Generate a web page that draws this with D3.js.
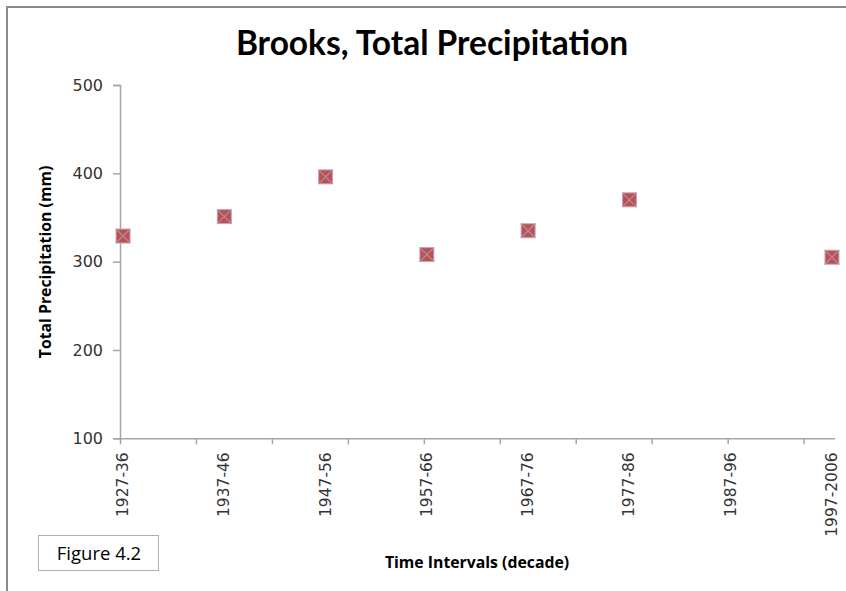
<!DOCTYPE html>
<html>
<head>
<meta charset="utf-8">
<script src="https://cdn.jsdelivr.net/npm/d3@7"></script>
<style>
  html, body { margin: 0; padding: 0; background: #fff; }
  svg { display: block; }
</style>
</head>
<body>
<svg id="chart" width="846" height="591"></svg>
<script>
// Decade intervals and total precipitation (mm) for Brooks
const categories = ["1927-36", "1937-46", "1947-56", "1957-66", "1967-76", "1977-86", "1987-96", "1997-2006"];
const precipitation = [329, 351, 396, 308, 335, 370, null, 305];
const yTicks = [100, 200, 300, 400, 500];

const svg = d3.select("#chart");
const W = 846, H = 591;

// chart area frame
svg.append("path")
  .attr("d", `M7,${H + 2} V7 H${W + 2}`)
  .attr("fill", "none")
  .attr("stroke", "#8c8c8c")
  .attr("stroke-width", 2);

const plotLeft = 120, plotRight = 835, plotTop = 85, plotBottom = 438.3;

// positions 1..8 for the decades; axis spans slightly beyond them
const x = d3.scaleLinear().domain([0.97, 8.03]).range([plotLeft, plotRight]);
const y = d3.scaleLinear().domain([100, 500]).range([plotBottom, plotTop]);

const axisColor = "#a6a6a6";
const tickFont = "'DejaVu Sans', Verdana, sans-serif";
const titleFont = "Lato, 'Open Sans', sans-serif";
const labelFont = "'Open Sans', Lato, sans-serif";

// y axis
const yAxis = svg.append("g")
  .attr("transform", `translate(${plotLeft},0)`)
  .call(d3.axisLeft(y).tickValues(yTicks).tickSize(7).tickPadding(10).tickFormat(d3.format("d")));
yAxis.select(".domain").attr("stroke", axisColor).attr("stroke-width", 1.5);
yAxis.selectAll(".tick line").attr("stroke", axisColor).attr("stroke-width", 1.5);
yAxis.selectAll(".tick text")
  .attr("fill", "#333")
  .style("font-family", tickFont)
  .style("font-size", "16px");

// x axis: tick marks every 0.75 units, labels at each decade
const xTickVals = d3.range(0, 10).map(k => 0.97 + 0.75 * k);
const xAxis = svg.append("g")
  .attr("transform", `translate(0,${plotBottom})`)
  .call(d3.axisBottom(x).tickValues(xTickVals).tickSize(6).tickFormat(""));
xAxis.select(".domain").attr("stroke", axisColor).attr("stroke-width", 1.5)
  .attr("d", `M${plotLeft},0.5H${plotRight}`);
xAxis.selectAll(".tick line").attr("stroke", axisColor).attr("stroke-width", 1.5);

svg.append("g")
  .selectAll("text")
  .data(categories)
  .join("text")
  .attr("transform", (d, i) => `translate(${x(i + 1) + 5},${plotBottom + 14}) rotate(-90)`)
  .attr("text-anchor", "end")
  .attr("fill", "#333")
  .style("font-family", tickFont)
  .style("font-size", "15.5px")
  .text(d => d);

// markers: filled square with an X
const pts = precipitation
  .map((v, i) => ({ i: i + 1, v }))
  .filter(d => d.v != null);
const s = 7;
const mk = svg.append("g")
  .selectAll("g")
  .data(pts)
  .join("g")
  .attr("transform", d => `translate(${x(d.i)},${y(d.v)})`);
mk.append("rect")
  .attr("x", -s).attr("y", -s).attr("width", 2 * s).attr("height", 2 * s)
  .attr("fill", "#C0504D")
  .attr("stroke", "#c9a6b6")
  .attr("stroke-width", 1);
mk.append("path")
  .attr("d", `M${-s},${-s}L${s},${s}M${s},${-s}L${-s},${s}`)
  .attr("stroke", "#a590ab")
  .attr("stroke-width", 1.2);

// titles
svg.append("text")
  .attr("x", 432).attr("y", 55)
  .attr("text-anchor", "middle")
  .style("font-family", titleFont)
  .style("font-weight", "bold")
  .style("font-size", "33.5px")
  .attr("fill", "#000")
  .text("Brooks, Total Precipitation");

svg.append("text")
  .attr("transform", `translate(51,262) rotate(-90)`)
  .attr("text-anchor", "middle")
  .style("font-family", labelFont)
  .style("font-weight", "bold")
  .style("font-size", "15.8px")
  .attr("fill", "#000")
  .text("Total Precipitation (mm)");

svg.append("text")
  .attr("x", 477).attr("y", 568)
  .attr("text-anchor", "middle")
  .style("font-family", labelFont)
  .style("font-weight", "bold")
  .style("font-size", "15.8px")
  .attr("fill", "#000")
  .text("Time Intervals (decade)");

// figure label box
svg.append("rect")
  .attr("x", 38.5).attr("y", 535.5).attr("width", 120).attr("height", 35)
  .attr("fill", "#fff")
  .attr("stroke", "#b0b0b0")
  .attr("stroke-width", 1);
svg.append("text")
  .attr("x", 99).attr("y", 560)
  .attr("text-anchor", "middle")
  .style("font-family", labelFont)
  .style("font-size", "18.5px")
  .attr("fill", "#000")
  .text("Figure 4.2");
</script>
</body>
</html>
